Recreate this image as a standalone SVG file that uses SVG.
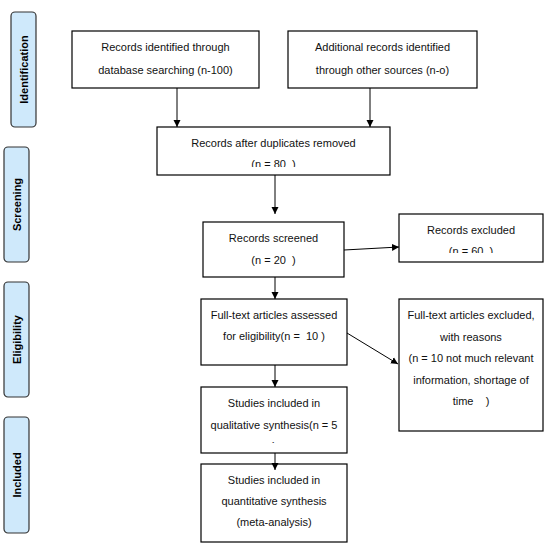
<svg xmlns="http://www.w3.org/2000/svg" width="551" height="547" viewBox="0 0 551 547">
<style>
.box{fill:#fff;stroke:#000;stroke-width:1.2}
.side{fill:#cfe9fb;stroke:#333;stroke-width:1.2}
.t{font-family:"Liberation Sans",Arial,sans-serif;font-size:11px;fill:#111;text-anchor:middle;white-space:pre}
.s{font-family:"Liberation Sans",Arial,sans-serif;font-size:11px;font-weight:bold;fill:#000;text-anchor:middle}
.c{stroke:#000;stroke-width:1;fill:none}
</style>
<defs>
<marker id="ah" markerWidth="8" markerHeight="8" refX="7" refY="4" orient="auto" markerUnits="userSpaceOnUse">
<path d="M0,0.5 L7,4 L0,7.5 Z" fill="#000"/>
</marker>
<clipPath id="c3"><rect x="150" y="120" width="250" height="47"/></clipPath>
<clipPath id="c5"><rect x="390" y="210" width="160" height="43"/></clipPath>
<clipPath id="c8"><rect x="195" y="380" width="160" height="63"/></clipPath>
</defs>
<g id="side-identification"><rect class="side" x="11" y="12" width="25" height="115" rx="4"/><text class="s" transform="translate(27.5,69.5) rotate(-90)">Identification</text></g>
<g id="side-screening"><rect class="side" x="4" y="147" width="25" height="115" rx="4"/><text class="s" transform="translate(20.5,204.5) rotate(-90)">Screening</text></g>
<g id="side-eligibility"><rect class="side" x="4" y="282" width="25" height="115" rx="4"/><text class="s" transform="translate(20.5,339.5) rotate(-90)">Eligibility</text></g>
<g id="side-included"><rect class="side" x="4" y="417" width="25" height="116" rx="4"/><text class="s" transform="translate(20.5,475) rotate(-90)">Included</text></g>
<g id="n1"><rect class="box" x="72" y="31" width="187" height="57"/><text class="t" x="165.5" y="51">Records identified through</text><text class="t" x="165.5" y="74">database searching (n-100)</text></g>
<g id="n2"><rect class="box" x="288" y="31" width="189" height="57"/><text class="t" x="382.5" y="51">Additional records identified</text><text class="t" x="382.5" y="74">through other sources (n-o)</text></g>
<g id="n3"><rect class="box" x="157" y="127" width="233" height="48"/><text class="t" x="273.5" y="147">Records after duplicates removed</text><text class="t" x="273.5" y="168" clip-path="url(#c3)">(n = 80  )</text></g>
<g id="n4"><rect class="box" x="203" y="222" width="141" height="55"/><text class="t" x="273.5" y="242">Records screened</text><text class="t" x="273.5" y="264">(n = 20  )</text></g>
<g id="n5"><rect class="box" x="399" y="214" width="144" height="48"/><text class="t" x="471" y="234">Records excluded</text><text class="t" x="471" y="255" clip-path="url(#c5)">(n = 60  )</text></g>
<g id="n6"><rect class="box" x="201" y="299" width="146" height="66"/><text class="t" x="274" y="319">Full-text articles assessed</text><text class="t" x="274" y="340">for eligibility(n =  10 )</text></g>
<g id="n7"><rect class="box" x="399" y="299" width="144" height="132"/><text class="t" x="471" y="319">Full-text articles excluded,</text><text class="t" x="471" y="341">with reasons</text><text class="t" x="471" y="362">(n = 10 not much relevant</text><text class="t" x="471" y="384">information, shortage of</text><text class="t" x="471" y="405">time    )</text></g>
<g id="n8"><rect class="box" x="201" y="387" width="146" height="66"/><text class="t" x="274" y="407">Studies included in</text><text class="t" x="274" y="429">qualitative synthesis(n = 5</text><text class="t" x="274" y="450" clip-path="url(#c8)">)</text></g>
<g id="n9"><rect class="box" x="201" y="464" width="146" height="78"/><text class="t" x="274" y="484">Studies included in</text><text class="t" x="274" y="505">quantitative synthesis</text><text class="t" x="274" y="526">(meta-analysis)</text></g>
<g id="connectors">
<line class="c" x1="177" y1="88" x2="177" y2="127" marker-end="url(#ah)"/>
<line class="c" x1="370" y1="88" x2="370" y2="127" marker-end="url(#ah)"/>
<line class="c" x1="275" y1="175" x2="275" y2="214" marker-end="url(#ah)"/>
<line class="c" x1="344" y1="250" x2="399" y2="247" marker-end="url(#ah)"/>
<line class="c" x1="275" y1="277" x2="275" y2="299" marker-end="url(#ah)"/>
<line class="c" x1="347" y1="333" x2="398" y2="364" marker-end="url(#ah)"/>
<line class="c" x1="275" y1="365" x2="275" y2="387" marker-end="url(#ah)"/>
<line class="c" x1="275" y1="453" x2="275" y2="470" marker-end="url(#ah)"/>
</g>
</svg>
